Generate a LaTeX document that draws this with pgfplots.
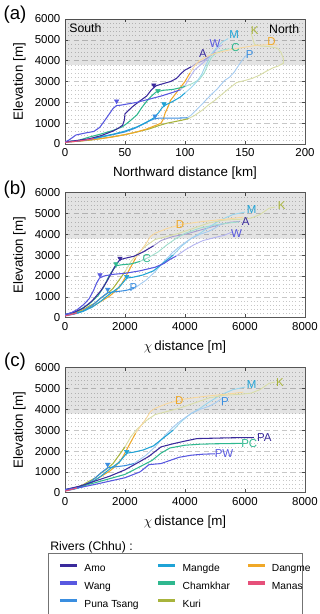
\documentclass[border=0pt]{standalone}
\usepackage{fontspec}
\setmainfont{Liberation Sans}
\usepackage{pgfplots}
\usepackage{pgfplotstable}
\pgfplotsset{compat=1.18}

\definecolor{amo}{HTML}{3A2A9C}
\definecolor{wang}{HTML}{5858E0}
\definecolor{puna}{HTML}{3A8EE0}
\definecolor{mangde}{HTML}{1FA3D6}
\definecolor{chamkhar}{HTML}{2FB88F}
\definecolor{kuri}{HTML}{A8B43C}
\definecolor{dangme}{HTML}{F0A828}
\definecolor{manas}{HTML}{E6507A}

\tikzset{lab/.style={text=#1, font=\fontsize{8.6}{10}\selectfont, inner sep=0pt}}
\pgfplotsset{
  panel/.style={
    scale only axis, width=180pt, height=93.75pt,
    ymin=0, ymax=6000, ytick={0,1000,...,6000},
    minor y tick num=4,
    ymajorgrids, yminorgrids,
    major grid style={black!22, dash pattern=on 4pt off 2.5pt, line width=0.4pt},
    minor grid style={black!22, dotted, line width=0.35pt},
    tick align=inside, major tick length=2.5pt, minor tick length=0.01pt,
    tick style={black!70, line width=0.4pt},
    axis line style={black!65, line width=0.5pt},
    /pgf/number format/assume math mode=true,
    /pgf/number format/1000 sep={},
    scaled x ticks=false, scaled y ticks=false,
    ticklabel style={font=\fontsize{8.6}{10}\selectfont},
    label style={font=\fontsize{9.5}{11}\selectfont},
    ylabel={Elevation [m]},
    every axis y label/.style={at={(axis description cs:-0.19,0.5)}, rotate=90, anchor=center},
    every axis x label/.style={at={(axis description cs:0.5,-0.232)}, anchor=center},
  },
  shadebox/.style={draw=none, fill=black, fill opacity=0.11},
  lo/.style={line width=0.8pt, color=#1},
  hi/.style={line width=0.7pt, color=#1!45!white},
  knick/.style={only marks, mark=triangle*, mark size=1.9pt, color=#1, mark options={rotate=180}},
}

% chi-distance profiles shared by (b) and (c)
\pgfplotstableread{
x y
0 80
100 110
200 150
300 190
400 230
}\manasB
\pgfplotstableread{
x y
0 100
300 170
600 300
900 500
1200 800
1500 1150
1800 1450
2000 1800
2060 1900
2300 1950
2600 2050
2950 2250
3300 2650
3600 3000
}\mangdeLo
\pgfplotstableread{
x y
3600 3000
3900 3450
4200 3800
4500 4050
4800 4350
5200 4700
5600 4950
6000 5070
}\mangdeHi
\pgfplotstableread{
x y
0 100
300 180
600 320
900 580
1200 950
1420 1200
1600 1230
2000 1300
2300 1400
}\punaLo
\pgfplotstableread{
x y
2300 1400
2700 1800
3000 2200
3300 2700
3600 3150
3900 3500
4200 3800
4500 4000
4800 4150
5000 4300
5222 4520
}\punaHi
\pgfplotstableread{
x y
0 120
300 200
600 330
900 520
1200 780
1500 1050
1700 1300
1900 1650
2050 2050
2200 2450
2350 2850
}\dangmeLo
\pgfplotstableread{
x y
2350 2850
2500 3150
2700 3550
2850 3900
3000 4050
3400 4280
3900 4480
4500 4600
5000 4680
5500 4750
5944 4830
}\dangmeHi
\pgfplotstableread{
x y
0 120
300 210
600 380
800 550
1000 700
1200 950
1400 1150
1600 1400
1800 1800
2000 2200
}\kuriLo
\pgfplotstableread{
x y
2000 2200
2200 2700
2400 3050
2700 3450
3000 3750
3400 3900
3800 4050
4300 4300
4800 4550
5300 4680
5800 4720
6200 4780
6500 4950
6800 5250
7000 5310
}\kuriHi

\begin{document}
\begin{tikzpicture}
\useasboundingbox (0,0) rectangle (240pt,-460.5pt);

\node[font=\fontsize{14}{16}\selectfont] at (11.25pt,-11.25pt) {(a)};
\node[font=\fontsize{14}{16}\selectfont] at (11.25pt,-142.5pt) {(b)};
\node[font=\fontsize{14}{16}\selectfont] at (11.25pt,-271.5pt) {(c)};

% ---------------- (a) ----------------
\begin{axis}[panel, at={(48.75pt,-14.25pt)}, anchor=north west,
  xmin=0, xmax=200, xtick={0,50,...,200},
  xlabel={Northward distance [km]}]
\addplot[shadebox] coordinates {(0,3800) (200,3800) (200,6000) (0,6000) (0,3800)};

\addplot[hi=wang] coordinates {(96,2600)(100,2800)(104,3200)(108,3550)(113,3800)(118,4050)(123,4350)(128,4650)(131,4750)};
\addplot[hi=amo] coordinates {(105,3700)(110,3880)(115,4000)(119,4150)(123,4300)(125,4400)};
\addplot[hi=chamkhar] coordinates {(100,2760)(106,2900)(112,3100)(116,3400)(119,3800)(122,4150)(126,4380)(131,4500)(137,4580)};
\addplot[hi=mangde] coordinates {(100,2450)(105,2700)(110,3000)(114,3350)(117,3750)(120,4100)(123,4400)(127,4650)(131,4900)(136,5060)};
\addplot[hi=puna] coordinates {(102,1260)(105,1380)(108,1550)(112,1780)(117,2080)(122,2380)(127,2650)(133,3050)(137,3200)(141,3450)(145,3800)(148,4050)(151,4250)};
\addplot[hi=kuri] coordinates {(103,1220)(108,1370)(115,1650)(120,1900)(125,2100)(130,2350)(137,2680)(143,2950)(150,3050)(156,3150)(162,3300)(168,3500)(173,3650)(178,3750)(182,3880)(182,4100)(180,4400)(177,4600)(170,4680)(163,4700)(158,4780)(157,4950)(156,5150)(155,5300)};
\addplot[hi=dangme] coordinates {(104,3400)(108,3750)(112,4000)(118,4200)(125,4350)(132,4450)(140,4550)(150,4650)(160,4740)(170,4770)(177,4760)};

\addplot[lo=kuri] coordinates {(0,100)(10,130)(20,180)(30,260)(40,350)(50,450)(60,580)(70,720)(78,880)(85,1000)(92,1080)(98,1150)(103,1220)};
\addplot[lo=dangme] coordinates {(0,100)(10,130)(20,190)(30,260)(40,340)(50,450)(60,580)(68,720)(75,880)(80,1000)(82,1200)(83.5,1500)(86,1800)(88,2100)(92,2400)(96,2700)(100,3000)(104,3400)};
\addplot[lo=puna] coordinates {(0,100)(10,140)(20,220)(30,330)(40,450)(50,580)(58,750)(65,950)(70,1100)(74,1200)(78,1240)(86,1240)(95,1245)(102,1260)};
\addplot[lo=mangde] coordinates {(0,100)(10,140)(20,220)(30,350)(40,470)(50,620)(60,820)(68,1050)(74,1250)(78,1500)(81,1750)(84,1880)(90,2050)(96,2250)(100,2450)};
\addplot[lo=chamkhar] coordinates {(0,100)(10,150)(20,330)(30,480)(40,650)(48,830)(54,1100)(60,1400)(64,1750)(68,2050)(72,2300)(76,2500)(82,2580)(90,2620)(96,2700)(100,2760)};
\addplot[lo=amo] coordinates {(0,100)(10,170)(20,250)(30,400)(40,620)(45,780)(48,900)(49.5,1150)(50,1450)(56,1780)(62,2050)(68,2300)(72,2600)(76,2800)(82,2900)(88,3000)(93,3150)(97,3400)(100,3550)(105,3700)};
\addplot[lo=wang] coordinates {(0,100)(3,180)(6,300)(9,430)(13,480)(18,540)(24,600)(29,800)(34,1200)(37,1450)(40,1700)(43,1850)(46,1860)(52,1920)(60,2000)(70,2150)(80,2300)(90,2480)(96,2600)};
\addplot[lo=manas] coordinates {(0,80)(4,100)(8,120)(12,150)(16,180)(20,220)(24,260)};

\addplot[knick=wang] coordinates {(43,2060)};
\addplot[knick=amo] coordinates {(74,2830)};
\addplot[knick=chamkhar] coordinates {(77.5,2560)};
\addplot[knick=mangde] coordinates {(82.5,1920)};
\addplot[knick=puna] coordinates {(75,1340)};

\node[anchor=north west, font=\fontsize{9.2}{11}\selectfont, inner sep=0pt] at (rel axis cs:0.017,0.965) {South};
\node[anchor=north east, font=\fontsize{9.2}{11}\selectfont, inner sep=0pt] at (rel axis cs:0.977,0.955) {North};
\node[lab=amo] at (axis cs:115,4350) {A};
\node[lab=wang] at (axis cs:125,4830) {W};
\node[lab=mangde] at (axis cs:141,5230) {M};
\node[lab=chamkhar] at (axis cs:142,4620) {C};
\node[lab=puna] at (axis cs:154,4300) {P};
\node[lab=kuri] at (axis cs:158,5430) {K};
\node[lab=dangme] at (axis cs:172,4910) {D};
\end{axis}

% ---------------- (b) ----------------
\begin{axis}[panel, at={(48.75pt,-144.5pt)}, anchor=north west,
  xmin=0, xmax=8000, xtick={0,2000,...,8000},
  xlabel={$\chi$\,distance [m]}]
\addplot[shadebox] coordinates {(0,3800) (8000,3800) (8000,6000) (0,6000) (0,3800)};

\addplot[hi=wang] coordinates {(3700,2950)(4000,3250)(4300,3500)(4600,3700)(5000,3850)(5300,3950)(5556,4100)};
\addplot[hi=amo] coordinates {(2950,3450)(3200,3700)(3600,3900)(4000,4000)(4500,4200)(5000,4400)(5500,4580)(5833,4620)};
\addplot[hi=chamkhar] coordinates {(2500,2700)(2800,2900)(3100,3150)(3400,3500)(3700,3800)(4000,4050)(4500,4300)(5000,4450)(5500,4550)(5800,4600)};
\addplot[hi=mangde] table {\mangdeHi};
\addplot[hi=puna] table {\punaHi};
\addplot[hi=kuri] table {\kuriHi};
\addplot[hi=dangme] table {\dangmeHi};

\addplot[lo=kuri] table {\kuriLo};
\addplot[lo=dangme] table {\dangmeLo};
\addplot[lo=puna] table {\punaLo};
\addplot[lo=mangde] table {\mangdeLo};
\addplot[lo=chamkhar] coordinates {(0,150)(400,300)(800,650)(1100,1050)(1300,1500)(1450,1950)(1600,2300)(1720,2500)(1900,2540)(2200,2580)(2500,2700)};
\addplot[lo=amo] coordinates {(0,150)(300,260)(600,450)(900,800)(1200,1300)(1400,1750)(1550,2150)(1700,2550)(1830,2780)(2000,2850)(2300,2950)(2600,3150)(2950,3450)};
\addplot[lo=wang] coordinates {(0,150)(200,230)(400,380)(600,600)(800,900)(950,1300)(1050,1650)(1150,1900)(1300,2000)(1600,2080)(2000,2130)(2500,2250)(3000,2420)(3300,2600)(3500,2800)(3700,2950)};
\addplot[lo=manas] table {\manasB};

\addplot[knick=wang] coordinates {(1167,2050)};
\addplot[knick=amo] coordinates {(1833,2850)};
\addplot[knick=chamkhar] coordinates {(1700,2580)};
\addplot[knick=mangde] coordinates {(2056,1970)};
\addplot[knick=puna] coordinates {(1422,1360)};

\node[lab=mangde] at (axis cs:6223,5170) {M};
\node[lab=kuri] at (axis cs:7220,5360) {K};
\node[lab=dangme] at (axis cs:3833,4450) {D};
\node[lab=amo] at (axis cs:6020,4600) {A};
\node[lab=wang] at (axis cs:5720,4060) {W};
\node[lab=chamkhar] at (axis cs:2722,2820) {C};
\node[lab=puna] at (axis cs:2278,1440) {P};
\end{axis}

% ---------------- (c) ----------------
\begin{axis}[panel, at={(48.75pt,-275.8pt)}, anchor=north west,
  xmin=0, xmax=8000, xtick={0,2000,...,8000},
  xlabel={$\chi$\,distance [m]}]
\addplot[shadebox] coordinates {(0,3800) (8000,3800) (8000,6000) (0,6000) (0,3800)};

\addplot[hi=mangde] table {\mangdeHi};
\addplot[hi=puna] table {\punaHi};
\addplot[hi=kuri] table {\kuriHi};
\addplot[hi=dangme] table {\dangmeHi};

\addplot[lo=kuri] table {\kuriLo};
\addplot[lo=dangme] table {\dangmeLo};
\addplot[lo=puna] table {\punaLo};
\addplot[lo=mangde] table {\mangdeLo};
\addplot[lo=chamkhar] coordinates {(0,150)(500,300)(1000,480)(1500,680)(2000,880)(2500,1250)(2900,1550)(3200,1900)(3500,2150)(4000,2280)(4500,2330)(5000,2350)(5900,2370)};
\addplot[lo=amo] coordinates {(0,150)(500,320)(1000,560)(1500,800)(2000,1100)(2500,1500)(2800,1750)(3200,2200)(3600,2350)(4000,2480)(4400,2600)(5000,2620)(5600,2640)(6300,2650)};
\addplot[lo=wang] coordinates {(0,150)(500,250)(1000,400)(1500,560)(2000,720)(2500,1000)(2800,1350)(3200,1400)(3500,1550)(3800,1700)(4200,1800)(4600,1850)(5000,1870)};
\addplot[lo=manas] table {\manasB};

\addplot[knick=mangde] coordinates {(2056,1970)};
\addplot[knick=puna] coordinates {(1422,1360)};

\node[lab=mangde] at (axis cs:6223,5170) {M};
\node[lab=kuri] at (axis cs:7167,5280) {K};
\node[lab=dangme] at (axis cs:3810,4416) {D};
\node[lab=puna] at (axis cs:5333,4370) {P};
\node[lab=amo] at (axis cs:6643,2640) {PA};
\node[lab=chamkhar] at (axis cs:6143,2370) {PC};
\node[lab=wang] at (axis cs:5300,1860) {PW};
\end{axis}

% ---------------- legend ----------------
\node[anchor=base west, font=\fontsize{9.2}{11}\selectfont, inner sep=0pt] at (37.5pt,-413pt) {Rivers (Chhu) :};
\draw[black!55, line width=0.5pt] (36pt,-414.75pt) rectangle (226.5pt,-470pt);
\begin{axis}[at={(43.5pt,-422.45pt)}, anchor=north west, hide axis,
  scale only axis, width=5pt, height=5pt, xmin=0, xmax=1, ymin=0, ymax=1,
  legend columns=3,
  legend style={at={(0,1)}, anchor=north west, draw=none, fill=none,
    inner sep=0pt, row sep=6.1pt, column sep=0pt,
    font=\fontsize{7.7}{9}\selectfont,
    nodes={inner sep=0pt, text height=5.5pt, text depth=1.5pt}},
  legend image code/.code={\draw[#1, line width=2.4pt] (0pt,2.6pt) -- (12.75pt,2.6pt);}]
\addlegendimage{amo}
\addlegendentry{\makebox[58.5pt][l]{\hspace{4.5pt}Amo}}
\addlegendimage{mangde}
\addlegendentry{\makebox[52.5pt][l]{\hspace{4.5pt}Mangde}}
\addlegendimage{dangme}
\addlegendentry{\makebox[33pt][l]{\hspace{3.75pt}Dangme}}
\addlegendimage{wang}
\addlegendentry{\makebox[58.5pt][l]{\hspace{4.5pt}Wang}}
\addlegendimage{chamkhar}
\addlegendentry{\makebox[52.5pt][l]{\hspace{4.5pt}Chamkhar}}
\addlegendimage{manas}
\addlegendentry{\makebox[33pt][l]{\hspace{3.75pt}Manas}}
\addlegendimage{puna}
\addlegendentry{\makebox[58.5pt][l]{\hspace{4.5pt}Puna Tsang}}
\addlegendimage{kuri}
\addlegendentry{\makebox[52.5pt][l]{\hspace{4.5pt}Kuri}}
\end{axis}
\end{tikzpicture}
\end{document}
